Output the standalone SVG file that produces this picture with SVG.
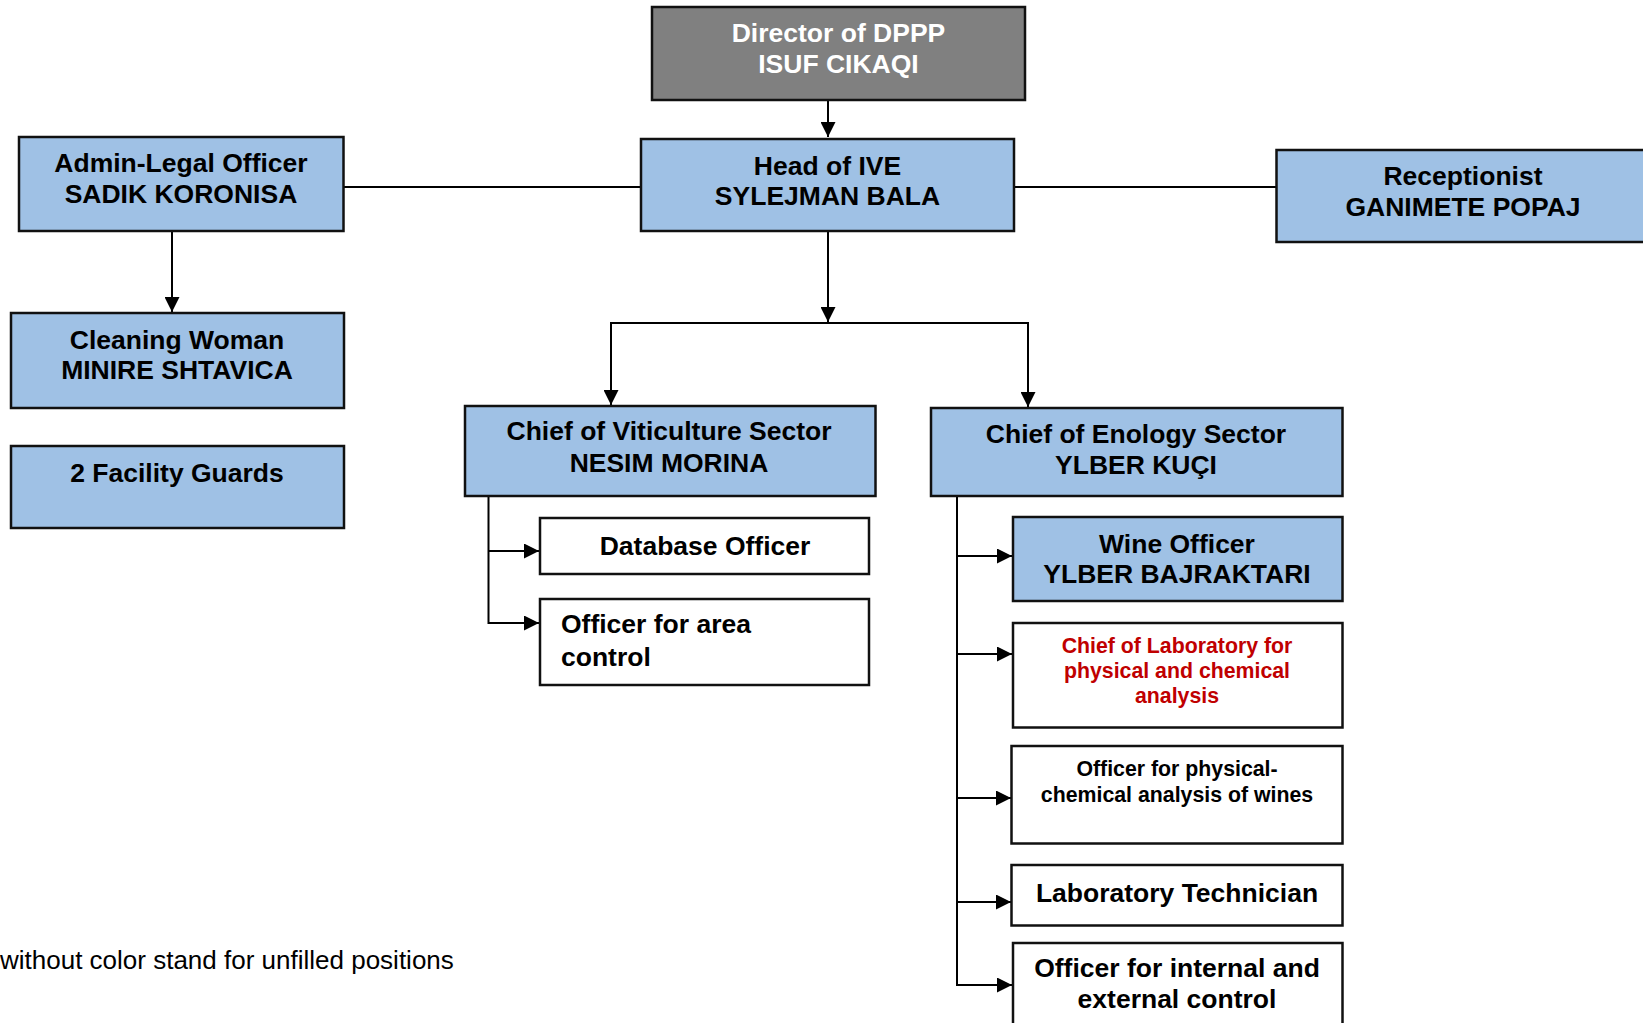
<svg xmlns="http://www.w3.org/2000/svg" width="1643" height="1023" viewBox="0 0 1643 1023">
<defs>
<style>
.box{stroke:#111;stroke-width:2.5}
.blue{fill:#9fc1e5}
.gray{fill:#808080}
.white{fill:#fff}
text{font-family:"Liberation Sans",Arial,sans-serif;font-weight:bold;font-size:26.5px;fill:#000}
.c{text-anchor:middle}
.w{fill:#fff}
.red{fill:#c00000;font-size:21.3px}
.sm{font-size:21.3px}
.note{font-weight:normal;font-size:26px}
.con{stroke:#000;stroke-width:2;fill:none}
</style>
<marker id="ah" markerUnits="userSpaceOnUse" markerWidth="16" markerHeight="15" refX="15" refY="7.5" orient="auto">
<path d="M0,0 L15,7.5 L0,15 z" fill="#000"/>
</marker>
</defs>
<rect width="1643" height="1023" fill="#fff"/>

<g id="connectors">
<line class="con" x1="828" y1="100" x2="828" y2="137" marker-end="url(#ah)"/>
<line class="con" x1="343" y1="187" x2="641" y2="187"/>
<line class="con" x1="1014" y1="187" x2="1277" y2="187"/>
<line class="con" x1="172" y1="231" x2="172" y2="312" marker-end="url(#ah)"/>
<line class="con" x1="828" y1="231" x2="828" y2="322" marker-end="url(#ah)"/>
<polyline class="con" points="611,323 1028,323"/>
<line class="con" x1="611" y1="322" x2="611" y2="405" marker-end="url(#ah)"/>
<line class="con" x1="1028" y1="322" x2="1028" y2="407" marker-end="url(#ah)"/>
<polyline class="con" points="488.5,496 488.5,623 539,623" marker-end="url(#ah)"/>
<line class="con" x1="488.5" y1="551" x2="539" y2="551" marker-end="url(#ah)"/>
<line class="con" x1="957" y1="494" x2="957" y2="985"/>
<line class="con" x1="956" y1="556" x2="1012" y2="556" marker-end="url(#ah)"/>
<line class="con" x1="956" y1="654" x2="1012" y2="654" marker-end="url(#ah)"/>
<line class="con" x1="956" y1="798" x2="1011" y2="798" marker-end="url(#ah)"/>
<line class="con" x1="956" y1="902" x2="1011" y2="902" marker-end="url(#ah)"/>
<line class="con" x1="956" y1="985" x2="1012" y2="985" marker-end="url(#ah)"/>
</g>

<g id="director">
<rect class="box gray" x="652" y="7" width="373" height="93"/>
<text class="c w" x="838.5" y="42">Director of DPPP</text>
<text class="c w" x="838.5" y="73">ISUF CIKAQI</text>
</g>

<g id="head">
<rect class="box blue" x="641" y="139" width="373" height="92"/>
<text class="c" x="827.5" y="175">Head of IVE</text>
<text class="c" x="827.5" y="205">SYLEJMAN BALA</text>
</g>

<g id="admin">
<rect class="box blue" x="19" y="137" width="324.5" height="94"/>
<text class="c" x="181" y="172">Admin-Legal Officer</text>
<text class="c" x="181" y="203">SADIK KORONISA</text>
</g>

<g id="receptionist">
<rect class="box blue" x="1276.5" y="150" width="380" height="92"/>
<text class="c" x="1463" y="185">Receptionist</text>
<text class="c" x="1463" y="216">GANIMETE POPAJ</text>
</g>

<g id="cleaning">
<rect class="box blue" x="11" y="313" width="333" height="95"/>
<text class="c" x="177" y="349">Cleaning Woman</text>
<text class="c" x="177" y="379">MINIRE SHTAVICA</text>
</g>

<g id="guards">
<rect class="box blue" x="11" y="446" width="333" height="82"/>
<text class="c" x="177" y="482">2 Facility Guards</text>
</g>

<g id="viticulture">
<rect class="box blue" x="465" y="406" width="410.5" height="90"/>
<text class="c" x="669" y="440">Chief of Viticulture Sector</text>
<text class="c" x="669" y="471.5">NESIM MORINA</text>
</g>

<g id="database">
<rect class="box white" x="540" y="518" width="329" height="56"/>
<text class="c" x="705" y="555">Database Officer</text>
</g>

<g id="area-control">
<rect class="box white" x="540" y="599" width="329" height="86"/>
<text x="561" y="633">Officer for area</text>
<text x="561" y="665.5">control</text>
</g>

<g id="enology">
<rect class="box blue" x="931" y="408" width="411.5" height="88"/>
<text class="c" x="1136" y="443">Chief of Enology Sector</text>
<text class="c" x="1136" y="474">YLBER KUÇI</text>
</g>

<g id="wine-officer">
<rect class="box blue" x="1013" y="517" width="329.5" height="84"/>
<text class="c" x="1177" y="552.5">Wine Officer</text>
<text class="c" x="1177" y="582.5">YLBER BAJRAKTARI</text>
</g>

<g id="chief-lab">
<rect class="box white" x="1013" y="623" width="329.5" height="104.5"/>
<text class="c red" x="1177" y="653">Chief of Laboratory for</text>
<text class="c red" x="1177" y="678">physical and chemical</text>
<text class="c red" x="1177" y="703">analysis</text>
</g>

<g id="officer-physchem">
<rect class="box white" x="1011.5" y="746" width="331" height="97.5"/>
<text class="c sm" x="1177" y="776">Officer for physical-</text>
<text class="c sm" x="1177" y="801.5">chemical analysis of wines</text>
</g>

<g id="lab-tech">
<rect class="box white" x="1011.5" y="865" width="331" height="60.5"/>
<text class="c" x="1177" y="901.5">Laboratory Technician</text>
</g>

<g id="officer-control">
<rect class="box white" x="1013" y="943" width="329.5" height="95"/>
<text class="c" x="1177" y="976.5">Officer for internal and</text>
<text class="c" x="1177" y="1008">external control</text>
</g>

<text class="note" x="0" y="969">without color stand for unfilled positions</text>
</svg>
